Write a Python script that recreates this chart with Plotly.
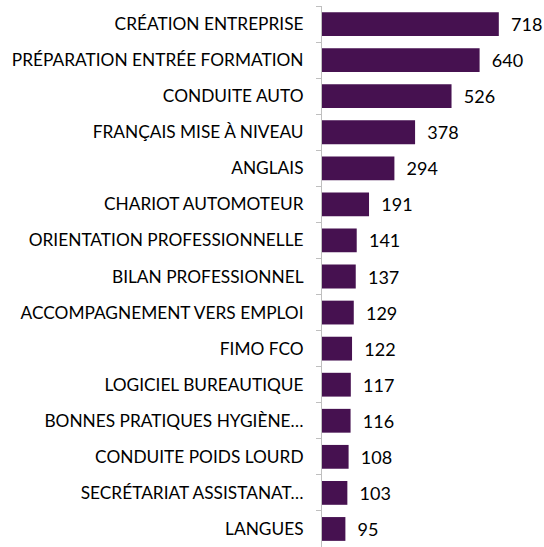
import plotly.graph_objects as go

categories = [
    "CRÉATION ENTREPRISE",
    "PRÉPARATION ENTRÉE FORMATION",
    "CONDUITE AUTO",
    "FRANÇAIS MISE À NIVEAU",
    "ANGLAIS",
    "CHARIOT AUTOMOTEUR",
    "ORIENTATION PROFESSIONNELLE",
    "BILAN PROFESSIONNEL",
    "ACCOMPAGNEMENT VERS EMPLOI",
    "FIMO FCO",
    "LOGICIEL BUREAUTIQUE",
    "BONNES PRATIQUES HYGIÈNE…",
    "CONDUITE POIDS LOURD",
    "SECRÉTARIAT ASSISTANAT…",
    "LANGUES",
]
values = [718, 640, 526, 378, 294, 191, 141, 137, 129, 122, 117, 116, 108, 103, 95]

FONT = "Lato"

fig = go.Figure(
    go.Bar(
        x=values,
        y=categories,
        orientation="h",
        marker=dict(color="#461150", line=dict(width=0)),
        text=values,
        texttemplate="  %{x}",
        textposition="outside",
        cliponaxis=False,
        textfont=dict(family=FONT, size=18, color="#000000"),
    )
)

fig.update_layout(
    width=544,
    height=547,
    margin=dict(l=322, r=25, t=6, b=0, autoexpand=False),
    paper_bgcolor="white",
    plot_bgcolor="white",
    bargap=0.34,
    showlegend=False,
    font=dict(family=FONT, size=17.3, color="#000000"),
)
fig.update_xaxes(
    range=[0, 800],
    visible=False,
    showgrid=False,
    zeroline=False,
)
fig.update_yaxes(
    categoryorder="array",
    categoryarray=categories[::-1],
    autorange=False,
    range=[-0.5, 14.5],
    showline=True,
    linecolor="#BFBFBF",
    linewidth=1,
    ticks="outside",
    tickson="boundaries",
    ticklen=5,
    tickcolor="#BFBFBF",
    ticklabelstandoff=14,
    showgrid=False,
    automargin=False,
    tickfont=dict(family=FONT, size=17.3, color="#000000"),
)

fig.write_html(
    "out.html",
    config={"displayModeBar": False},
    post_script="document.body.style.margin='0';document.body.style.overflow='hidden';",
)
